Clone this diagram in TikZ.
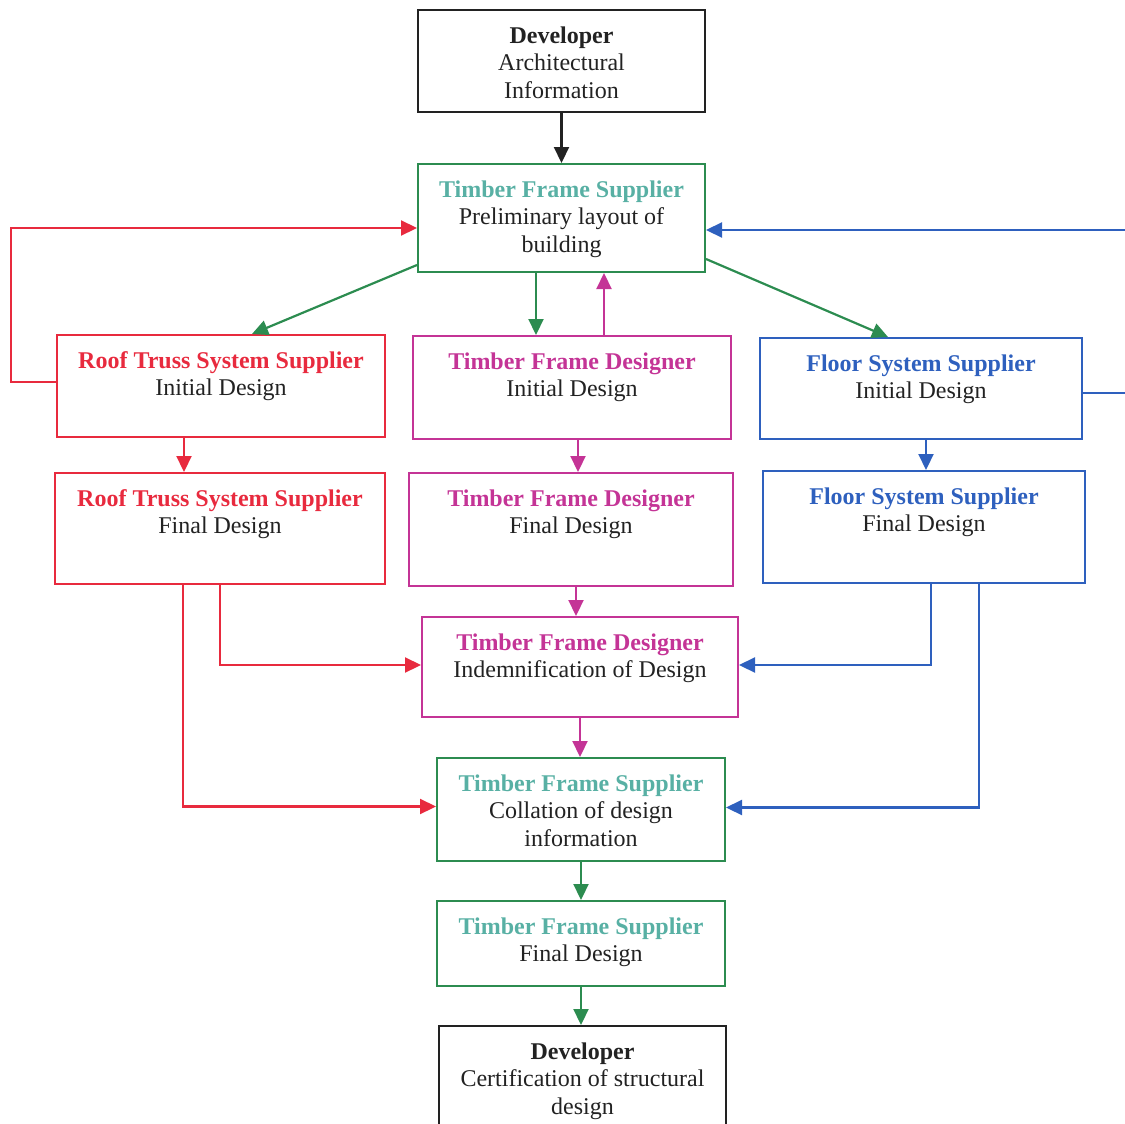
\documentclass[tikz,border=0pt]{standalone}
\usepackage{fontspec}
\setmainfont{Liberation Serif}
\usetikzlibrary{arrows.meta,calc}

\definecolor{tfteal}{RGB}{88,176,164}
\definecolor{tfgreen}{RGB}{44,140,80}
\definecolor{rtred}{RGB}{232,42,62}
\definecolor{tdmag}{RGB}{196,52,150}
\definecolor{fsblue}{RGB}{46,96,190}
\definecolor{devblk}{RGB}{34,34,34}

% width, height (px), title, body
\newcommand{\stagetxt}[4]{\parbox[c][\dimexpr#2pt/2\relax][t]{\dimexpr#1pt/2\relax}{\centering\fontsize{12}{13.8}\selectfont\rule{0pt}{16.5pt}#3\\\textcolor{devblk}{#4}}}
\newcommand{\stagettl}[2]{\textcolor{#1}{\bfseries #2}}

\begin{document}
\begin{tikzpicture}[x=.5pt,y=-.5pt,
  stage/.style={draw=#1,line width=1pt,anchor=north,inner sep=0pt},
  link/.style={#1,line width=1.1pt,-{Triangle[length=8pt,width=7.5pt]}}]
\useasboundingbox (0,0) rectangle (1125,1124);

\node[stage=devblk] (dev1) at (561.5,9) {\stagetxt{287}{102}{\stagettl{devblk}{Developer}}{Architectural\\Information}};
\node[stage=tfgreen] (tfs1) at (561.5,163) {\stagetxt{287}{108}{\stagettl{tfteal}{Timber Frame Supplier}}{Preliminary layout of\\building}};
\node[stage=rtred] (rts1) at (221,334) {\stagetxt{328}{102}{\stagettl{rtred}{Roof Truss System Supplier}}{Initial Design}};
\node[stage=tdmag] (tfd1) at (572,335) {\stagetxt{318}{103}{\stagettl{tdmag}{Timber Frame Designer}}{Initial Design}};
\node[stage=fsblue] (fss1) at (921,337) {\stagetxt{322}{101}{\stagettl{fsblue}{Floor System Supplier}}{Initial Design}};
\node[stage=rtred] (rts2) at (220,472) {\stagetxt{330}{111}{\stagettl{rtred}{Roof Truss System Supplier}}{Final Design}};
\node[stage=tdmag] (tfd2) at (571,472) {\stagetxt{324}{113}{\stagettl{tdmag}{Timber Frame Designer}}{Final Design}};
\node[stage=fsblue] (fss2) at (924,470) {\stagetxt{322}{112}{\stagettl{fsblue}{Floor System Supplier}}{Final Design}};
\node[stage=tdmag] (tfd3) at (580,616) {\stagetxt{316}{100}{\stagettl{tdmag}{Timber Frame Designer}}{Indemnification of Design}};
\node[stage=tfgreen] (tfs2) at (581,757) {\stagetxt{288}{103}{\stagettl{tfteal}{Timber Frame Supplier}}{Collation of design\\information}};
\node[stage=tfgreen] (tfs3) at (581,900) {\stagetxt{288}{85}{\stagettl{tfteal}{Timber Frame Supplier}}{Final Design}};
\node[stage=devblk] (dev2) at (582.5,1025) {\stagetxt{287}{112}{\stagettl{devblk}{Developer}}{Certification of structural\\design}};

% top part
\draw[link=devblk] (dev1.south) -- (tfs1.north);
\draw[link=tfgreen] ($(tfs1.south west)+(0,-8)$) -- ($(rts1.north)+(31,0)$);
\draw[link=tfgreen] ($(tfs1.south east)+(0,-14)$) -- ($(fss1.north)+(-33,0)$);
\coordinate (tfs1dn) at ($(tfs1.south)+(-25.5,0)$);
\coordinate (tfd1up) at ($(tfd1.north)+(32,0)$);
\draw[link=tfgreen] (tfs1dn) -- (tfs1dn |- tfd1.north);
\draw[link=tdmag] (tfd1up) -- (tfd1up |- tfs1.south);
\draw[link=rtred] ($(rts1.west)+(0,-4)$) -- ++(-45,0) |- ($(tfs1.west)+(0,10)$);
\draw[link=fsblue] ($(fss1.east)+(0,4.5)$) -- ++(48,0) |- ($(tfs1.east)+(0,12)$);

% initial -> final
\coordinate (rts1dn) at ($(rts1.south)+(-37,0)$);
\coordinate (tfd1dn) at ($(tfd1.south)+(6,0)$);
\coordinate (fss1dn) at ($(fss1.south)+(5,0)$);
\coordinate (tfd2dn) at ($(tfd2.south)+(5,0)$);
\draw[link=rtred] (rts1dn) -- (rts1dn |- rts2.north);
\draw[link=tdmag] (tfd1dn) -- (tfd1dn |- tfd2.north);
\draw[link=fsblue] (fss1dn) -- (fss1dn |- fss2.north);
\draw[link=tdmag] (tfd2dn) -- (tfd2dn |- tfd3.north);

% final designs -> indemnification / collation
\draw[link=rtred] (rts2.south) |- ($(tfd3.west)+(0,-2)$);
\draw[link=rtred] ($(rts2.south)+(-37,0)$) |- ($(tfs2.west)+(0,-3)$);
\draw[link=fsblue] ($(fss2.south)+(7,0)$) |- ($(tfd3.east)+(0,-2)$);
\draw[link=fsblue] ($(fss2.south)+(55,0)$) |- ($(tfs2.east)+(0,-2)$);

% bottom part
\draw[link=tdmag] (tfd3.south) -- (tfd3.south |- tfs2.north);
\draw[link=tfgreen] (tfs2.south) -- (tfs3.north);
\draw[link=tfgreen] (tfs3.south) -- (tfs3.south |- dev2.north);
\end{tikzpicture}
\end{document}
